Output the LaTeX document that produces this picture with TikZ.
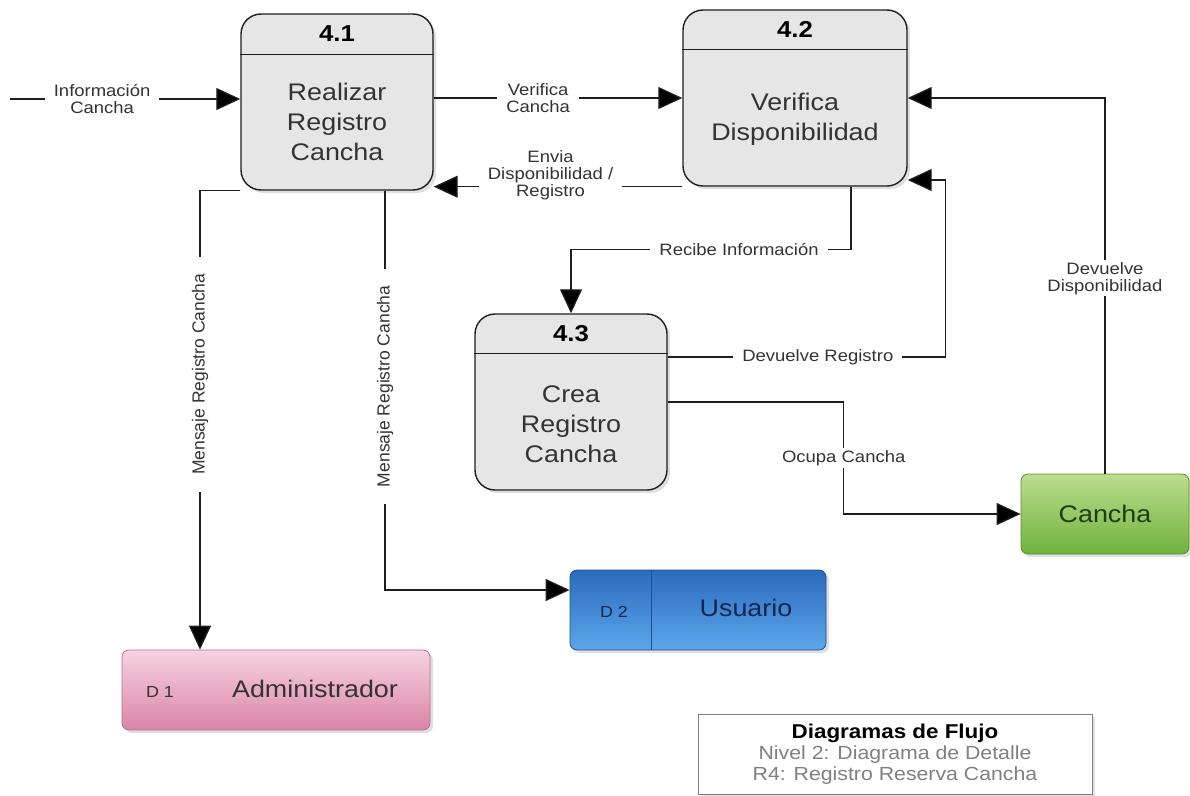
\documentclass[tikz,border=0pt]{standalone}
\usepackage{fontspec}
\setmainfont{Liberation Sans}[FakeStretch=1.12]
\newfontfamily\upsans{Liberation Sans}
\usepackage{tikz}
\usetikzlibrary{positioning,arrows.meta,shadows}
\definecolor{procfill}{HTML}{E6E6E6}
\definecolor{linegray}{HTML}{1E1E1E}
\definecolor{textgray}{HTML}{333333}
\definecolor{greentop}{HTML}{BCDD8E}
\definecolor{greenbot}{HTML}{6FB23C}
\definecolor{greentext}{HTML}{1F3D10}
\definecolor{bluetop}{HTML}{2C6BBE}
\definecolor{bluebot}{HTML}{5BA6EA}
\definecolor{blueline}{HTML}{1D4E8F}
\definecolor{bluetext}{HTML}{0E2650}
\definecolor{pinktop}{HTML}{F6D3E3}
\definecolor{pinkbot}{HTML}{DA84A8}
\definecolor{pinkline}{HTML}{B86F90}

\begin{document}
\begin{tikzpicture}[x=1pt,y=-1pt,
  shade/.style={drop shadow={shadow xshift=3pt,shadow yshift=-3pt,opacity=0.25}},
  proc/.style={draw=linegray, line width=1.4pt, fill=procfill, rounded corners=20pt,
    minimum width=192pt, minimum height=176pt, inner sep=0pt, shade},
  divline/.style={draw=linegray, line width=1.4pt},
  ptitle/.style={font=\bfseries\fontsize{23}{26}\selectfont, text=black},
  pbody/.style={font=\fontsize{24}{30}\selectfont, text=textgray, align=center},
  store/.style={rounded corners=7pt, line width=0.8pt, minimum height=80pt, inner sep=0pt, shade},
  storeid/.style={font=\fontsize{16}{18}\selectfont},
  storename/.style={font=\fontsize{24}{28}\selectfont},
  flow/.style={draw=linegray, line width=1.3pt, -{Triangle[length=24pt,width=22pt,fill=black]}},
  lbl/.style={fill=white, inner xsep=9pt, inner ysep=2pt, align=center, text=textgray, font=\fontsize{16.5}{17}\selectfont},
  vlbl/.style={lbl, inner xsep=17pt, rotate=90, font=\upsans\fontsize{17.5}{19}\selectfont}]
\useasboundingbox (0,0) rectangle (1190,795);

\node[proc] (p41) at (337,102) {};
\draw[divline] ([yshift=-41pt]p41.north west) -- ([yshift=-41pt]p41.north east);
\node[ptitle] (t41) at ([yshift=-20pt]p41.north) {4.1};
\node[pbody] (b41) at ([yshift=-20pt]p41.center) {Realizar\\Registro\\Cancha};

\node[proc, minimum width=224pt] (p42) at (795,98) {};
\draw[divline] ([yshift=-40pt]p42.north west) -- ([yshift=-40pt]p42.north east);
\node[ptitle] (t42) at ([yshift=-20pt]p42.north) {4.2};
\node[pbody] (b42) at ([yshift=-21pt]p42.center) {Verifica\\Disponibilidad};

\node[proc] (p43) at (571,402) {};
\draw[divline] ([yshift=-40pt]p43.north west) -- ([yshift=-40pt]p43.north east);
\node[ptitle] (t43) at ([yshift=-20pt]p43.north) {4.3};
\node[pbody] (b43) at ([yshift=-22pt]p43.center) {Crea\\Registro\\Cancha};

\node[store, minimum width=168pt, draw=greenbot!80!black, top color=greentop, bottom color=greenbot,
  storename, text=greentext] (cancha) at (1105,514) {Cancha};

\node[store, minimum width=256pt, draw=blueline, top color=bluetop, bottom color=bluebot] (d2) at (698,610) {};
\draw[blueline, line width=1pt] ([xshift=-47pt]d2.north) -- ([xshift=-47pt]d2.south);
\node[storeid, text=bluetext] (d2id) at (614,612) {D 2};
\node[storename, text=bluetext] (d2name) at (746,608) {Usuario};

\node[store, minimum width=308pt, draw=pinkline, top color=pinktop, bottom color=pinkbot] (d1) at (276,690) {};
\node[storeid, text=textgray] (d1id) at (160,692) {D 1};
\node[storename, text=textgray] (d1name) at (315,689) {Administrador};

\node[draw=gray, line width=1pt, fill=white, minimum width=394pt, minimum height=80pt, align=center,
  font=\fontsize{19}{21}\selectfont, text=gray, shade] (legend) at (895,754)
  {\textcolor{black}{\bfseries\fontsize{20}{21}\selectfont Diagramas de Flujo}\\Nivel 2: Diagrama de Detalle\\R4: Registro Reserva Cancha};

\coordinate (inA) at (10,99);
\draw[flow] (inA) -- node[lbl,pos=0.4]{Información\\Cancha} (inA -| p41.west);
\draw[flow] ([yshift=4pt]p41.east) -- node[lbl,pos=0.42]{Verifica\\Cancha} ([yshift=4pt]p41.east -| p42.west);
\draw[flow] (p42.south west) -- node[lbl,pos=0.53,yshift=11pt]{Envia\\Disponibilidad /\\Registro} (p42.south west -| p41.east);
\draw[flow] ([xshift=56pt]p42.south) -- ++(0,63) coordinate (rb) -- node[lbl,pos=0.4]{Recibe Información} (rb -| p43.north) -- (p43.north);
\draw[flow] ([yshift=45pt]p43.east) -- node[lbl,pos=0.54]{Devuelve Registro} ++(278,0) |- ([yshift=-82pt]p42.east);
\draw[flow] (cancha.north) |- node[lbl,pos=0.26]{Devuelve\\Disponibilidad} (p42.east);
\draw[flow] (p43.east) -- ++(176,0) |- node[lbl,pos=0.25]{Ocupa Cancha} (cancha.west);
\draw[flow] (p41.south west) -| node[vlbl,pos=0.7]{Mensaje Registro Cancha} ([xshift=-76pt]d1.north);
\draw[flow] ([xshift=48pt]p41.south) |- node[vlbl,pos=0.245]{Mensaje Registro Cancha} ([yshift=20pt]d2.west);
\end{tikzpicture}
\end{document}
